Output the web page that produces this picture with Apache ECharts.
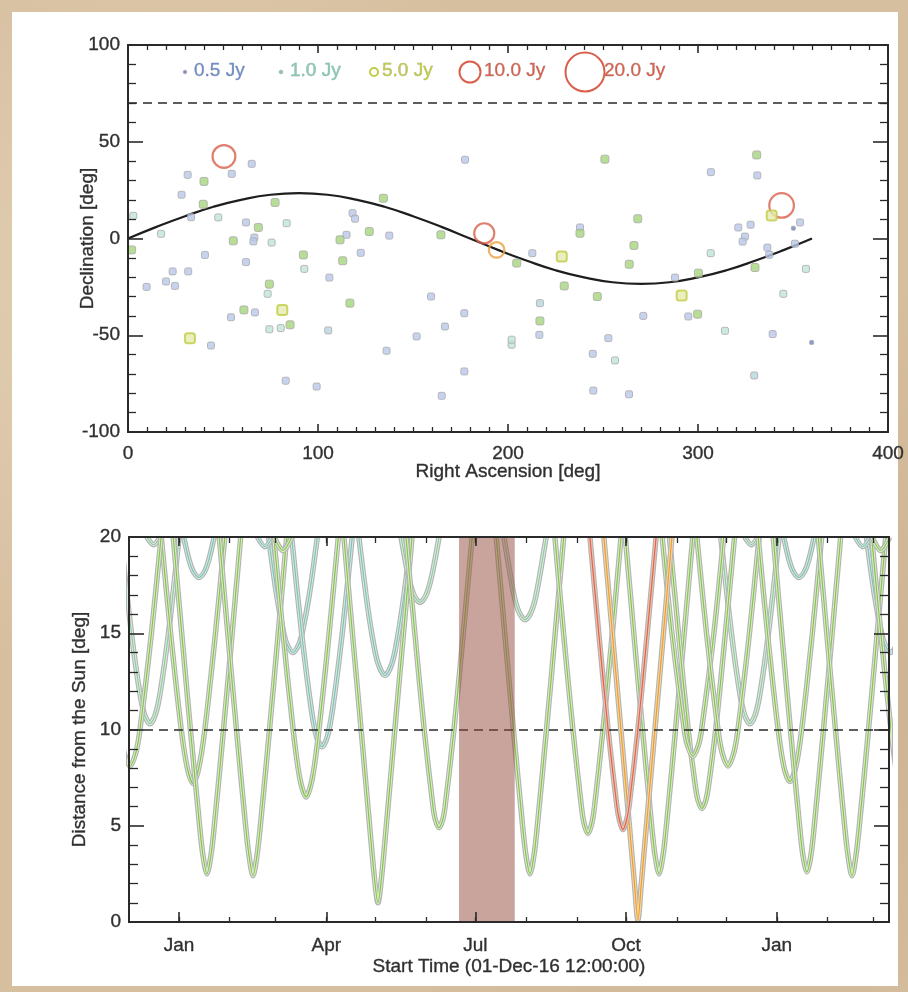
<!DOCTYPE html>
<html><head><meta charset="utf-8">
<script src="https://cdn.jsdelivr.net/npm/echarts@6/dist/echarts.min.js"></script>
<style>
html,body{margin:0;padding:0;width:908px;height:992px;overflow:hidden;
background:#d6bf9f;
background-image:radial-gradient(circle at 20% 30%, rgba(255,245,225,0.35), rgba(0,0,0,0) 40%),
radial-gradient(circle at 80% 70%, rgba(160,130,95,0.25), rgba(0,0,0,0) 45%);}
#paper{position:absolute;left:12px;top:12px;width:886px;height:974px;background:#fff;}
#chart{position:absolute;left:0;top:0;width:908px;height:992px;}
</style></head><body>
<div id="paper"></div><div id="chart"></div>
<script>
// ---------- top panel: sources ----------
const srcRA   = [50.5,65.1,54.6,31.4,40.0,28.2,77.4,39.6,2.8,33.2,47.5,62.1,83.5,68.6,118.2,119.5,134.4,177.4,17.4,55.4,66.5,66.0,75.6,115.0,111.6,127.0,137.5,164.7,187.5,194.0,204.6,1.9,40.5,92.3,113.0,122.5,62.1,92.8,23.5,31.7,106.0,20.0,9.8,24.7,74.4,73.5,61.0,66.8,81.2,54.2,74.4,80.4,85.3,32.6,43.7,105.4,116.8,83.0,99.3,136.1,151.9,159.5,166.8,177.0,177.0,165.1,201.9,201.9,229.6,216.8,216.8,216.5,247.0,291.4,344.9,271.2,294.9,299.8,252.8,244.6,256.3,314.2,339.3,359.8,329.6,244.9,263.7,251.0,330.9,306.8,331.2,344.0,338.8,268.3,237.9,237.9,321.2,327.7,324.7,323.5,353.7,350.2,266.3,212.8,228.3,263.8,306.7,336.5,337.5,351.0,300.2,330.0,356.8,287.9];
const srcDec  = [42.4,38.6,33.4,32.9,29.5,22.6,18.6,17.7,11.7,11.0,10.9,8.3,7.9,5.7,13.1,10.2,20.8,40.7,2.4,-1.2,0.5,-1.5,-2.1,1.9,-0.7,3.6,1.5,1.9,2.7,-5.9,-12.7,-5.9,-8.5,-8.5,-11.5,-7.4,-12.2,-15.7,-17.0,-17.0,-20.2,-22.2,-25.0,-24.5,-23.6,-28.6,-36.9,-38.2,-36.9,-40.7,-46.9,-46.3,-44.6,-51.5,-55.3,-47.5,-33.4,-73.5,-76.5,-58.0,-50.6,-30.0,-45.5,-38.6,-68.7,-81.3,-54.9,-52.3,-24.5,-33.4,-42.6,-49.8,-30.0,-29.5,-28.6,-40.0,-40.3,-39.1,-51.5,-59.6,-63.0,-47.7,-49.4,-53.7,-70.8,-78.6,-80.5,41.0,43.2,34.3,32.6,17.1,11.9,10.2,5.7,2.7,5.7,7.1,1.0,-1.6,8.3,5.3,-3.6,-7.6,-9.3,-13.3,-7.6,-4.7,-8.4,-2.7,-17.9,-15.0,-15.7,-20.2];
const srcFlux = [11,0.5,0.5,0.5,2,0.5,3,2,1,0.5,1,0.5,1,2,0.5,0.5,2.5,0.5,1,1.5,0.5,0.5,1,0.5,2.5,2,0.5,2.5,9.5,7,2,3,0.5,2,2.5,0.5,0.5,1,0.5,0.5,0.5,0.5,0.5,0.5,2,1,3,0.5,4,0.5,1,1,2,5,0.5,0.8,2,0.5,0.5,0.5,0.5,0.5,0.5,0.5,0.5,0.5,1,1,2,0.8,2,0.5,2,4,1,0.5,0.6,1.5,0.5,0.5,1,1,0.5,0.3,0.8,0.5,0.5,2,3,0.5,0.5,12,5,2,0.5,2,0.5,0.5,0.5,0.5,0.5,0.3,2,0.5,4,2.5,1,0.5,0.5,0.5,2,2,1,0.5];

// ecliptic
const eclRA  = [0,15,30,45,60,75,90,105,120,135,150,165,180,195,210,225,240,255,270,285,300,315,330,345,360];
const eclDec = [0,6,11.5,16.4,20.1,22.6,23.4,22.6,20.1,16.4,11.5,6,0,-6,-11.5,-16.4,-20.1,-22.6,-23.4,-22.6,-20.1,-16.4,-11.5,-6,0];
const decLimit = 70;

// legend
const legendFlux   = [0.5, 1.0, 5.0, 10.0, 20.0];
const legendLabels = ['0.5 Jy','1.0 Jy','5.0 Jy','10.0 Jy','20.0 Jy'];

// ---------- bottom panel: distance from the Sun ----------
// [days since 01-Dec-16 12:00, distance deg]
const c01 = [[-5,20],[1.5,15],[6.4,12],[9.4,10.8],[12.8,10.3],[16.2,10.8],[19.2,12],[24.1,15],[30.6,20]];
const c02 = [[19.7,20],[25.4,15],[31.9,10],[35.6,8],[39.1,7.2],[42.6,8],[46.3,10],[52.8,15],[58.5,20]];
const c03 = [[27,20],[32.2,15],[37.5,10],[43.1,5],[45.1,3.5],[47.6,2.5],[50.1,3.5],[52.1,5],[57.7,10],[63,15],[68.2,20]];
const c04 = [[55.1,20],[60.3,15],[65.6,10],[71.2,5],[73.2,3.5],[75.7,2.4],[78.2,3.5],[80.2,5],[85.8,10],[91.1,15],[96.3,20]];
const c05 = [[33.4,20],[36.7,18.8],[39.3,18.2],[42.7,17.9],[46.1,18.2],[48.7,18.8],[52,20]];
const c06 = [[85.2,20],[90.1,17],[94.5,15],[96.6,14.4],[100.1,14],[103.6,14.4],[105.7,15],[110.1,17],[115,20]];
const c07 = [[88.4,20],[94,15],[100.2,10],[104.2,7.5],[108.1,6.5],[112,7.5],[116,10],[122.2,15],[127.8,20]];
const c08 = [[99.3,20],[105.4,15],[111.4,11],[114.6,9.6],[117.8,9.1],[121,9.6],[124.2,11],[130.2,15],[136.3,20]];
const c09 = [[140.3,20],[144.7,17],[148.2,15],[151.8,13.5],[156.3,12.8],[160.8,13.5],[164.4,15],[167.9,17],[172.3,20]];
const c10 = [[131.2,20],[136.4,15],[141.7,10],[146.9,5],[150.2,2],[152,1],[153.8,2],[157.1,5],[162.3,10],[167.6,15],[172.8,20]];
const c11 = [[169.1,20],[174.5,15],[180.2,10],[185.6,6],[187.1,5.3],[189.3,4.9],[191.5,5.3],[193,6],[198.4,10],[204.1,15],[209.5,20]];
const c12 = [[166.1,20],[170.5,18],[173.9,17],[177.7,16.6],[181.5,17],[184.9,18],[189.3,20]];
const c13 = [[228.9,20],[235,17],[238.1,16.1],[241.8,15.7],[245.5,16.1],[248.6,17],[254.7,20]];
const c14 = [[224.2,20],[229.4,15],[234.7,10],[240.3,5],[242.3,3.5],[244.8,2.5],[247.3,3.5],[249.3,5],[254.9,10],[260.2,15],[265.4,20]];
const c15 = [[260,20],[265.3,15],[271,10],[276.2,6],[277.9,5.1],[280.2,4.6],[282.5,5.1],[284.2,6],[289.4,10],[295.1,15],[300.4,20]];
const c16 = [[281.4,20],[286.8,15],[292.5,10],[297.9,6],[299.4,5.3],[301.6,4.8],[303.8,5.3],[305.3,6],[310.7,10],[316.4,15],[321.8,20]];
const c17 = [[289.9,20],[295.1,15],[300.3,10],[305.5,5],[308.6,2],[310.7,0.1],[312.8,2],[315.9,5],[321.1,10],[326.3,15],[331.5,20]];
const c18 = [[303,20],[308.2,15],[313.5,10],[319.1,5],[321.1,3.5],[323.6,2.5],[326.1,3.5],[328.1,5],[333.7,10],[339,15],[344.2,20]];
const c19 = [[329.9,20],[335.5,15],[341.4,10],[345.9,7],[347.5,6.3],[349.8,5.9],[352.1,6.3],[353.7,7],[358.2,10],[364.1,15],[369.7,20]];
const c20 = [[325.5,20],[331.5,15],[339,10],[340.9,9.2],[344.3,8.6],[347.7,9.2],[349.6,10],[357.1,15],[363.1,20]];
const c21 = [[346.7,20],[352.6,15],[359.6,10],[362.1,8.8],[365.7,8.1],[369.3,8.8],[371.8,10],[378.8,15],[384.7,20]];
const c22 = [[361.3,20],[367.8,15],[372.7,12],[375.7,10.8],[379.1,10.3],[382.5,10.8],[385.5,12],[390.4,15],[396.9,20]];
const c23 = [[384.1,20],[389.8,15],[396.3,10],[400,8],[403.5,7.3],[407,8],[410.7,10],[417.2,15],[422.9,20]];
const c24 = [[393.3,20],[398.5,15],[403.8,10],[409.4,5],[411.4,3.5],[413.9,2.6],[416.4,3.5],[418.4,5],[424,10],[429.3,15],[434.5,20]];
const c25 = [[420.8,20],[426,15],[431.3,10],[436.9,5],[438.9,3.5],[441.4,2.4],[443.9,3.5],[445.9,5],[451.5,10],[456.8,15],[462,20]];
const c26 = [[399.7,20],[403,18.8],[405.6,18.2],[409,17.9],[412.4,18.2],[415,18.8],[418.3,20]];
const c27 = [[-18.4,20],[-12.5,15],[-5.5,10],[-3,8.8],[0.6,8.1],[4.2,8.8],[6.7,10],[13.7,15],[19.6,20]];
const c28 = [[450.2,20],[455.1,17],[459.5,15],[461.6,14.4],[465.1,14],[468.6,14.4],[470.7,15]];
const c29 = [[453.4,20],[459,15],[465.2,10],[469.2,7.5],[473.1,6.5]];
const c30 = [[10.9,20],[15,19.6],[19.1,20]];
const c31 = [[78.4,20],[83,19.5],[87.6,20]];
const c32 = [[88.6,20],[94,19.3],[99.4,20]];
const c33 = [[375.9,20],[380,19.6],[384.1,20]];
const c34 = [[443.4,20],[448,19.5],[452.6,20]];
const c35 = [[453.6,20],[459,19.3],[464.4,20]];
const curves    = [c01,c02,c03,c04,c05,c06,c07,c08,c09,c10,c11,c12,c13,c14,c15,c16,c17,c18,c19,c20,c21,c22,c23,c24,c25,c26,c27,c28,c29,c30,c31,c32,c33,c34,c35];
const curveFlux = [1.2,2,2,2,1,1,2,1,1,2,2,1.5,1.5,2,2,10,7,2,2,2,2,1.2,2,2,2,1,2,1,2,1.5,1,2,1.5,1,2];

const sunLimit = 10;
const startDate = '2016-12-01T12:00:00Z';
const spanDays = 464;
const monthStarts   = ['2017-01-01','2017-02-01','2017-03-01','2017-04-01','2017-05-01','2017-06-01','2017-07-01','2017-08-01','2017-09-01','2017-10-01','2017-11-01','2017-12-01','2018-01-01','2018-02-01','2018-03-01'];
const quarterStarts = ['2017-01-01','2017-04-01','2017-07-01','2017-10-01','2018-01-01'];
const quarterLabels = ['Jan','Apr','Jul','Oct','Jan'];
const bandRange = ['2017-06-21','2017-07-25'];

// ---------- build ----------
const DAY = 86400000;
const T0 = Date.parse(startDate);
const T1 = T0 + spanDays * DAY;
const tOf = s => Date.parse(s + 'T00:00:00Z');
const monthT = monthStarts.map(tOf);
const quarterT = quarterStarts.map(tOf);
const bandT = bandRange.map(tOf);

const FONT = '"Liberation Sans", Arial, Helvetica, sans-serif';
const AX = '#2a2a2a';
const lbl = {color:'#303030', fontSize:19, fontFamily:FONT, textBorderColor:'#303030', textBorderWidth:0.35};

function fluxColor(f){
  if (f < 0.45) return '#4f6fb5';
  if (f < 0.7) return '#6f8dcc';
  if (f < 0.9) return '#80b0c8';
  if (f < 1.3) return '#84cbb0';
  if (f < 3.5) return '#8fc95c';
  if (f < 6) return '#c2cc44';
  if (f < 9) return '#eb9f3c';
  return '#d95f4b';
}
function fillColor(f){
  if (f < 0.45) return '#6a86c2';
  if (f < 0.7) return '#b9c8ea';
  if (f < 0.9) return '#b6d6e0';
  if (f < 1.3) return '#bfe6d6';
  return '#a5d47c';
}
function symSize(f){
  if (f >= 6) return 1.8 * f + 3;
  if (f >= 3.5) return 10;
  if (f >= 1.3) return 8;
  if (f < 0.45) return 4;
  return 7;
}
const scatterData = srcRA.map((ra, i) => {
  const f = srcFlux[i], c = fluxColor(f);
  if (f >= 6) return {value:[ra, srcDec[i], f], symbol:'circle', symbolSize:symSize(f),
    itemStyle:{color:'rgba(255,255,255,0)', borderColor:c, borderWidth:2.2}};
  if (f >= 3.5) return {value:[ra, srcDec[i], f], symbol:'roundRect', symbolSize:symSize(f),
    itemStyle:{color:'#e3ebb0', borderColor:c, borderWidth:2}};
  return {value:[ra, srcDec[i], f], symbol:'roundRect', symbolSize:symSize(f),
    itemStyle:{color:fillColor(f), borderColor:'#a9a9a9', borderWidth:1}};
});

function curveStyle(f){
  if (f >= 9) return {fill:'#f2c0b0', line:'#df6449'};
  if (f >= 6) return {fill:'#f7d8a6', line:'#ee9d2a'};
  if (f >= 1.8) return {fill:'#d9eec6', line:'#86c252'};
  if (f >= 1.1) return {fill:'#d6ede0', line:'#93ca9a'};
  return {fill:'#d2ebe5', line:'#7fc3b0'};
}
const order = curves.map((c, i) => i).sort((a, b) => curveFlux[a] - curveFlux[b]);
const curveSeries = [];
order.forEach(i => {
  const st = curveStyle(curveFlux[i]);
  const data = curves[i].map(p => [T0 + p[0] * DAY, p[1]]);
  const base = {type:'line', xAxisIndex:2, yAxisIndex:2, data:data, smooth:0.3, symbol:'none', silent:true, animation:false, clip:true, z:3};
  curveSeries.push(Object.assign({}, base, {lineStyle:{color:'#b3b3b3', width:5.5}}));
  curveSeries.push(Object.assign({}, base, {lineStyle:{color:st.fill, width:3.2}}));
  curveSeries.push(Object.assign({}, base, {lineStyle:{color:st.line, width:1.2}}));
});

// legend graphic
const legX = [185, 281, 374, 470, 585];
const legTextX = [194, 290, 382, 484, 604];
const legendGraphic = [];
legendFlux.forEach((f, i) => {
  const c = fluxColor(f);
  const r = f >= 6 ? symSize(f) / 2 : (f >= 3.5 ? 4 : 1.8);
  legendGraphic.push({type:'circle', shape:{cx:legX[i], cy:72, r:r}, z:50,
    style: f >= 3.5 ? {fill:'rgba(255,255,255,0)', stroke:c, lineWidth:2} : {fill:c, stroke:'#b0b0b0', lineWidth:1}});
  legendGraphic.push({type:'text', x:legTextX[i], y:71, z:50,
    style:{text:legendLabels[i], fill:c, font:'19px ' + FONT, verticalAlign:'middle', align:'left',
      stroke:'#9a9a9a', lineWidth:0.4}});
});

function axisBase(extra){
  return Object.assign({
    type:'value', axisLine:{show:true, onZero:false, lineStyle:{color:AX, width:2}},
    splitLine:{show:false}, z:30, nameMoveOverlap:false
  }, extra);
}

const bandRender = (fill) => (params, api) => {
  const a = api.coord([api.value(0), 20]);
  const b = api.coord([api.value(1), 0]);
  return {type:'rect', shape:{x:a[0], y:a[1], width:b[0]-a[0], height:b[1]-a[1]}, style:{fill:fill}};
};

const option = {
  backgroundColor:'transparent',
  animation:false,
  grid:[
    {left:128, top:45, width:760, height:387},
    {left:129, top:537, width:760, height:385}
  ],
  graphic: legendGraphic,
  xAxis:[
    axisBase({gridIndex:0, min:0, max:400, interval:100, position:'bottom',
      axisTick:{inside:true, length:8, lineStyle:{color:AX, width:1.6}},
      minorTick:{show:true, splitNumber:10, length:5, lineStyle:{color:AX, width:1.3}},
      axisLabel:Object.assign({margin:12}, lbl),
      name:'Right Ascension [deg]', nameLocation:'middle', nameGap:30, nameTextStyle:lbl}),
    axisBase({gridIndex:0, min:0, max:400, interval:100, position:'top',
      axisTick:{inside:true, length:8, lineStyle:{color:AX, width:1.6}},
      minorTick:{show:true, splitNumber:10, length:5, lineStyle:{color:AX, width:1.3}},
      axisLabel:{show:false}}),
    axisBase({gridIndex:1, min:T0, max:T1, position:'bottom',
      axisTick:{inside:true, length:10, customValues:quarterT, lineStyle:{color:AX, width:1.6}},
      axisLabel:Object.assign({margin:14, customValues:quarterT,
        formatter:v => { let k = 0, best = Infinity; quarterT.forEach((q, j) => { const d = Math.abs(q - v); if (d < best) { best = d; k = j; } }); return quarterLabels[k]; }}, lbl),
      name:'Start Time (01-Dec-16 12:00:00)', nameLocation:'middle', nameGap:35, nameTextStyle:lbl}),
    axisBase({gridIndex:1, min:T0, max:T1, position:'bottom',
      axisTick:{inside:true, length:5, customValues:monthT, lineStyle:{color:AX, width:1.3}},
      axisLabel:{show:false}}),
    axisBase({gridIndex:1, min:T0, max:T1, position:'top',
      axisTick:{inside:true, length:6, customValues:monthT, lineStyle:{color:AX, width:1.3}},
      axisLabel:{show:false}}),
    axisBase({gridIndex:1, min:T0, max:T1, position:'top',
      axisTick:{inside:true, length:9, customValues:quarterT, lineStyle:{color:AX, width:1.6}},
      axisLabel:{show:false}})
  ],
  yAxis:[
    axisBase({gridIndex:0, min:-100, max:100, interval:50, position:'left',
      axisTick:{inside:true, length:15, lineStyle:{color:AX, width:1.6}},
      minorTick:{show:true, splitNumber:5, length:8, lineStyle:{color:AX, width:1.3}},
      axisLabel:Object.assign({margin:8}, lbl),
      name:'Declination [deg]', nameLocation:'middle', nameRotate:90, nameGap:31, nameTextStyle:lbl}),
    axisBase({gridIndex:0, min:-100, max:100, interval:50, position:'right',
      axisTick:{inside:true, length:15, lineStyle:{color:AX, width:1.6}},
      minorTick:{show:true, splitNumber:5, length:8, lineStyle:{color:AX, width:1.3}},
      axisLabel:{show:false}}),
    axisBase({gridIndex:1, min:0, max:20, interval:5, position:'left',
      axisTick:{inside:true, length:15, lineStyle:{color:AX, width:1.6}},
      minorTick:{show:true, splitNumber:5, length:9, lineStyle:{color:AX, width:1.3}},
      axisLabel:Object.assign({margin:8}, lbl),
      name:'Distance from the Sun [deg]', nameLocation:'middle', nameRotate:90, nameGap:40, nameTextStyle:lbl}),
    axisBase({gridIndex:1, min:0, max:20, interval:5, position:'right',
      axisTick:{inside:true, length:15, lineStyle:{color:AX, width:1.6}},
      minorTick:{show:true, splitNumber:5, length:9, lineStyle:{color:AX, width:1.3}},
      axisLabel:{show:false}})
  ],
  series:[
    {type:'line', xAxisIndex:0, yAxisIndex:0, data:eclRA.map((r, i) => [r, eclDec[i]]),
      smooth:true, symbol:'none', lineStyle:{color:'#1e1e1e', width:2.2}, z:3,
      markLine:{silent:true, symbol:['none','none'], label:{show:false},
        lineStyle:{color:'#2a2a2a', width:1.7, type:[9,6]}, data:[{yAxis:decLimit}]}},
    {type:'scatter', xAxisIndex:0, yAxisIndex:0, data:scatterData, z:4}
  ].concat(curveSeries).concat([
    // single translucent veil for the excluded window: the curves stay visible through it
    {type:'custom', xAxisIndex:2, yAxisIndex:2, z:20, silent:true,
      encode:{x:[0,1]}, data:[[bandT[0], bandT[1]]], renderItem:bandRender('rgba(145,74,60,0.5)')},
    {type:'line', xAxisIndex:2, yAxisIndex:2, data:[], z:21, silent:true,
      markLine:{silent:true, symbol:['none','none'], label:{show:false},
        lineStyle:{color:'#2a2a2a', width:1.7, type:[9,6]}, data:[{yAxis:sunLimit}]}}
  ])
};
const chart = echarts.init(document.getElementById('chart'), null, {renderer:'canvas'});
chart.setOption(option);
</script></body></html>
